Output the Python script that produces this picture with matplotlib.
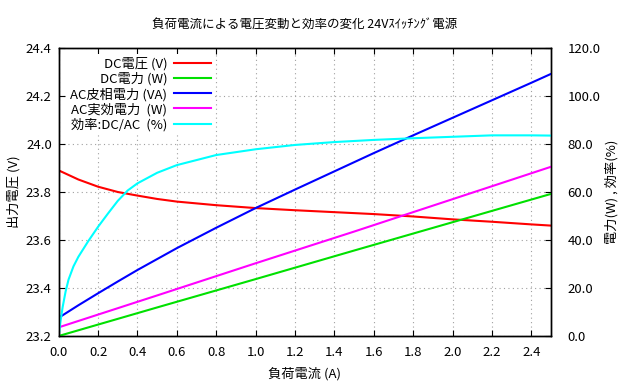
import matplotlib
matplotlib.use('Agg')
import matplotlib.pyplot as plt
from matplotlib.ticker import MultipleLocator, FormatStrFormatter

plt.rcParams['font.family'] = ['Noto Sans CJK JP', 'DejaVu Sans']
plt.rcParams['font.size'] = 9.5

# 負荷電流 (A)
current = [0.0, 0.1, 0.2, 0.3, 0.4, 0.5, 0.6, 0.8, 1.0, 1.2, 1.4, 1.6, 1.8, 2.0, 2.2, 2.4, 2.5]
dc_voltage = [23.89, 23.852, 23.822, 23.800, 23.785, 23.771, 23.760, 23.745, 23.733, 23.724,
              23.716, 23.708, 23.698, 23.686, 23.676, 23.665, 23.660]

current_p = [0.0, 0.5, 1.0, 1.5, 2.0, 2.5]
dc_power = [0.0, 11.9, 23.7, 35.6, 47.4, 59.2]
ac_real = [3.6, 16.9, 30.3, 43.5, 57.0, 70.5]

current_va = [0.0, 0.1, 0.2, 0.3, 0.4, 0.6, 0.8, 1.0, 1.2, 1.4, 1.6, 1.8, 2.0, 2.2, 2.4, 2.5]
ac_apparent = [7.6, 12.8, 17.8, 22.7, 27.5, 36.6, 45.1, 53.3, 61.0, 68.6, 76.2, 83.6, 90.9,
               98.2, 105.5, 109.2]

current_eff = [0.0, 0.01, 0.02, 0.035, 0.05, 0.075, 0.1, 0.15, 0.2, 0.25, 0.3, 0.35, 0.4,
               0.5, 0.6, 0.8, 1.0, 1.2, 1.4, 1.6, 1.8, 2.0, 2.2, 2.4, 2.5]
efficiency = [0.0, 6.5, 12.0, 18.5, 23.5, 29.0, 33.0, 39.5, 45.5, 51.0, 56.3, 60.6, 63.6,
              68.0, 71.2, 75.4, 77.8, 79.6, 80.8, 81.7, 82.4, 83.0, 83.6, 83.6, 83.5]

fig = plt.figure(figsize=(6.4, 3.87), dpi=100)
ax = fig.add_axes([0.0917, 0.1318, 0.7692, 0.7442])
ax2 = ax.twinx()

lw = 1.5
l1, = ax.plot(current, dc_voltage, color='#ff0000', lw=lw, label='DC電圧 (V)')
l2, = ax2.plot(current_p, dc_power, color='#00e000', lw=lw, label='DC電力 (W)')
l3, = ax2.plot(current_va, ac_apparent, color='#0000ff', lw=lw, label='AC皮相電力 (VA)')
l4, = ax2.plot(current_p, ac_real, color='#ff00ff', lw=lw, label='AC実効電力  (W)')
l5, = ax2.plot(current_eff, efficiency, color='#00ffff', lw=lw, label='効率:DC/AC  (%)')

ax.set_xlim(0, 2.5)
ax.set_ylim(23.2, 24.4)
ax2.set_ylim(0, 120)
ax.xaxis.set_major_locator(MultipleLocator(0.2))
ax.yaxis.set_major_locator(MultipleLocator(0.2))
ax2.yaxis.set_major_locator(MultipleLocator(20))
ax.xaxis.set_major_formatter(FormatStrFormatter('%.1f'))
ax.yaxis.set_major_formatter(FormatStrFormatter('%.1f'))
ax2.yaxis.set_major_formatter(FormatStrFormatter('%.1f'))

ax.grid(True, color='#a0a0a0', linestyle=(0, (1, 3)), linewidth=0.8)
ax.tick_params(axis='x', direction='in', top=True, length=4, pad=7)
ax.tick_params(axis='y', direction='in', length=4, pad=5)
ax2.tick_params(axis='y', direction='in', length=4, pad=12)
for a in (ax, ax2):
    for s in a.spines.values():
        s.set_linewidth(1.0)

ax.set_xlabel('負荷電流 (A)', labelpad=6)
ax.set_ylabel('出力電圧 (V)', labelpad=4)
ax2.set_ylabel('電力(W) , 効率(%)', labelpad=3)
ax.set_title('負荷電流による電圧変動と効率の変化 24Vｽｲｯﾁﾝｸﾞ電源', pad=14, fontsize=9)

leg = ax2.legend(handles=[l1, l2, l3, l4, l5], loc='upper left', bbox_to_anchor=(0.01, 0.99),
                 markerfirst=False, frameon=True, framealpha=1, edgecolor='none',
                 fancybox=False, handlelength=2.8, labelspacing=0.12, borderpad=0.3,
                 handletextpad=0.5, borderaxespad=0.2, fontsize=9.5)
for t in leg.get_texts():
    t.set_ha('right')
leg._legend_box.align = 'right'

fig.savefig('out.png', dpi=100)
